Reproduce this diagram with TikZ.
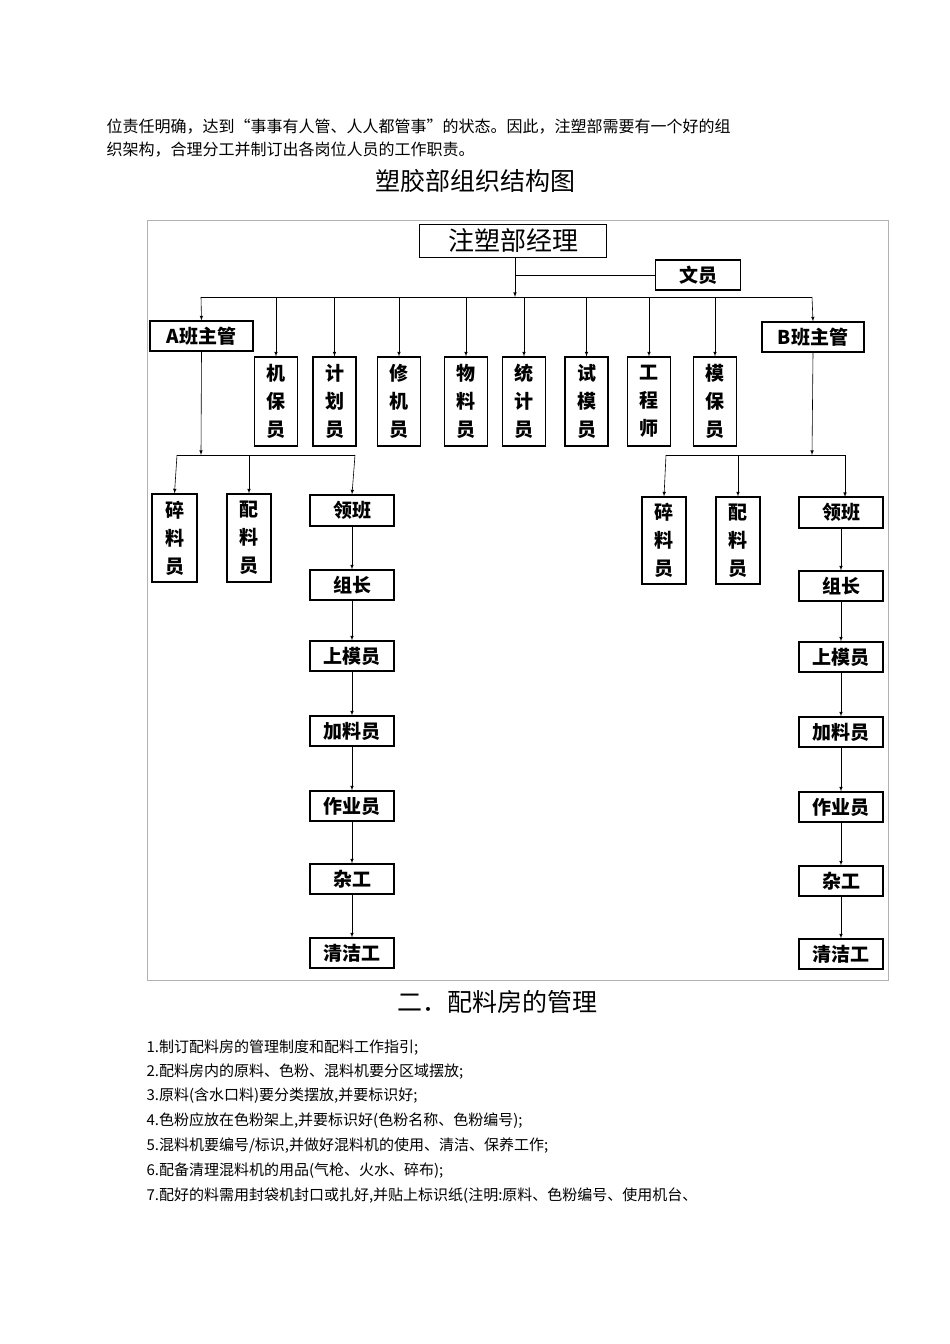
\documentclass[tikz,border=0pt]{standalone}
\usepackage{fontspec}
\setmainfont{Noto Sans CJK SC}
\begin{document}
\begin{tikzpicture}[x=1pt,y=-1pt,
  bx/.style={draw,line width=1.2pt,inner sep=0pt,font=\fontsize{19}{22}\selectfont\bfseries,align=center},
  ar/.style={-latex,line width=0.6pt},
  ln/.style={line width=0.6pt},
  li/.style={anchor=west,font=\fontsize{15}{17}\selectfont}]
\useasboundingbox (0,0) rectangle (950,1344);
\fill[white] (0,0) rectangle (950,1344);
\node[anchor=west,font=\fontsize{16}{18}\selectfont] (t1) at (103,127) {位责任明确，达到“事事有人管、人人都管事”的状态。因此，注塑部需要有一个好的组};
\node[anchor=west,font=\fontsize{16}{18}\selectfont] (t2) at (103,150) {织架构，合理分工并制订出各岗位人员的工作职责。};
\node[font=\fontsize{25}{28}\selectfont] (title) at (475,181) {塑胶部组织结构图};
\draw[gray!60,line width=1pt] (147,220) rectangle (888,980);
\node[bx,minimum width=187,minimum height=33,font=\fontsize{26}{28}\selectfont] (mgr) at (513,241) {注塑部经理};
\node[bx,minimum width=85,minimum height=30] (wy) at (698,275) {文员};
\coordinate (bus) at (515,297);
\draw[ar] (mgr.south -| bus) -- (bus);
\draw[ln] (wy.west) -- (wy.west -| bus);
\draw[ln] (201,297) -- (812,297);
\node[bx,minimum width=103,minimum height=30] (A) at (201.5,336) {A班主管};
\node[bx,minimum width=102,minimum height=30] (B) at (813,337) {B班主管};
\draw[ar] (201,297) -- (A.north);
\draw[ar] (812,297) -- (B.north);
\foreach \n/\x/\t in {jb/276/机\\保\\员, jh/334.5/计\\划\\员, xj/399/修\\机\\员, wl/466/物\\料\\员, tj/524/统\\计\\员, sm/586.5/试\\模\\员, gc/649/工\\程\\师, mb/715/模\\保\\员}{
  \node[bx,minimum width=43,minimum height=89,font=\fontsize{19}{28}\selectfont\bfseries] (\n) at (\x,401.5) {\t};
  \draw[ar] (\x,297) -- (\n.north);
}
% left
\coordinate (la) at (201,455);
\draw[ar] (A.south) -- (la);
\draw[ln] (177,455) -- (355,455);
\node[bx,minimum width=45,minimum height=88,font=\fontsize{19}{28}\selectfont\bfseries] (ls) at (174.5,538) {碎\\料\\员};
\node[bx,minimum width=44,minimum height=88,font=\fontsize{19}{28}\selectfont\bfseries] (lp) at (249,538) {配\\料\\员};
\node[bx,minimum width=84,minimum height=31] (l0) at (352,510.5) {领班};
\draw[ar] (177,455) -- (ls.north);
\draw[ar] (249,455) -- (lp.north);
\draw[ar] (355,455) -- (l0.north);
\foreach \i/\y/\t in {1/585/组长,2/656/上模员,3/731/加料员,4/806/作业员,5/879/杂工,6/953/清洁工}{
  \node[bx,minimum width=84,minimum height=30] (l\i) at (352,\y) {\t};
}
\foreach \a/\b in {0/1,1/2,2/3,3/4,4/5,5/6}{\draw[ar] (l\a) -- (l\b);}
% right
\coordinate (rb) at (812,455);
\draw[ar] (B.south) -- (rb);
\draw[ln] (666,455) -- (845,455);
\node[bx,minimum width=44,minimum height=87,font=\fontsize{19}{28}\selectfont\bfseries] (rs) at (664,540.5) {碎\\料\\员};
\node[bx,minimum width=44,minimum height=87,font=\fontsize{19}{28}\selectfont\bfseries] (rp) at (738,540.5) {配\\料\\员};
\node[bx,minimum width=84,minimum height=31] (r0) at (841,512.5) {领班};
\draw[ar] (666,455) -- (rs.north);
\draw[ar] (738,455) -- (rp.north);
\draw[ar] (845,455) -- (845,497);
\foreach \i/\y/\t in {1/586/组长,2/657/上模员,3/732/加料员,4/807/作业员,5/881/杂工,6/954/清洁工}{
  \node[bx,minimum width=84,minimum height=30] (r\i) at (841,\y) {\t};
}
\foreach \a/\b in {0/1,1/2,2/3,3/4,4/5,5/6}{\draw[ar] (r\a) -- (r\b);}
\node[font=\fontsize{25}{28}\selectfont] (sec) at (497,1002) {二．配料房的管理};
\node[li] (p1) at (143,1048) {1.制订配料房的管理制度和配料工作指引;};
\node[li] (p2) at (143,1072) {2.配料房内的原料、色粉、混料机要分区域摆放;};
\node[li] (p3) at (143,1096) {3.原料(含水口料)要分类摆放,并要标识好;};
\node[li] (p4) at (143,1121) {4.色粉应放在色粉架上,并要标识好(色粉名称、色粉编号);};
\node[li] (p5) at (143,1146) {5.混料机要编号/标识,并做好混料机的使用、清洁、保养工作;};
\node[li] (p6) at (143,1171) {6.配备清理混料机的用品(气枪、火水、碎布);};
\node[li] (p7) at (143,1196) {7.配好的料需用封袋机封口或扎好,并贴上标识纸(注明:原料、色粉编号、使用机台、};
\end{tikzpicture}
\end{document}
